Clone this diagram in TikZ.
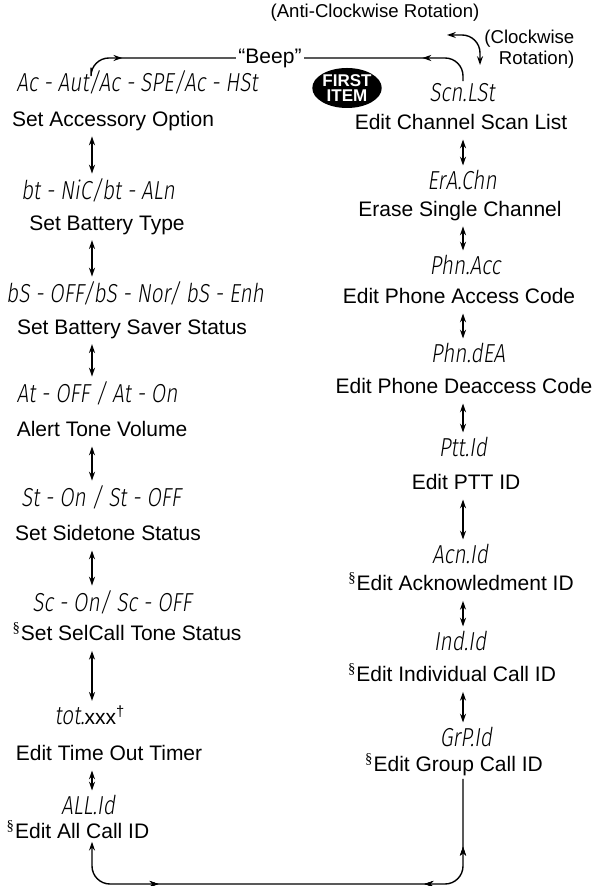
\documentclass[tikz,border=0pt]{standalone}
\usepackage{fontspec}
\setmainfont{Liberation Sans}
\newfontfamily\lcdfont[FakeSlant=0.15,FakeStretch=0.8]{Fira Sans Light}
\newfontfamily\symfont{Liberation Serif}
\usetikzlibrary{arrows.meta,shapes.geometric,decorations.markings}
\newcommand{\lcdsize}{\lcdfont\fontsize{13}{13}\selectfont}
\newcommand{\sect}{\textsuperscript{\symfont\S}}
\begin{document}
\begin{tikzpicture}[
		x=0.5pt, y=-0.5pt,
		>={Stealth[length=4.4pt, width=3pt]},
		every node/.style={inner sep=1pt},
		every path/.style={line width=0.7pt},
		lcd/.style={font=\lcdsize},
		lab/.style={font=\fontsize{10.5}{12}\selectfont},
		note/.style={font=\fontsize{9.3}{10.5}\selectfont, align=right},
		firstitem/.style={ellipse, fill=black, text=white, minimum width=34.5pt, minimum height=20pt, inner sep=0pt, align=center, font=\bfseries\fontsize{8.5}{7.5}\selectfont},
		updown/.style={<->, shorten <=5pt, shorten >=1pt},
		loop/.style={rounded corners=9pt},
		fwd/.style={postaction={decorate}, decoration={markings, mark=at position #1 with {\arrow{>}}}},
		rev/.style={postaction={decorate}, decoration={markings, mark=at position #1 with {\arrowreversed{>}}}},
		]
		\useasboundingbox (0,0) rectangle (596,886);
		\coordinate (lcol) at (92,0);
		\coordinate (rcol) at (463,0);
		\coordinate (topl) at (91,0);
		\coordinate (bot) at (92,884);
		\coordinate (rotl) at (447,35);
		\coordinate (rotd) at (480,65);
		\node[note, align=center] (anti) at (375,13) {(Anti-Clockwise Rotation)};
		\node[note, anchor=east] (clock) at (577,49) {(Clockwise\\Rotation)};
		\node[lab] (beep) at (270,58) {“Beep”};
		\node[firstitem] (first) at (347,88) {FIRST\\ITEM};
		\node[lcd] (lcdA) at (137,82) {Ac - Aut/Ac - SPE/Ac - HSt};
		\node[lab] (labA) at (113,121) {Set Accessory Option};
		\node[lcd] (lcdB) at (98,190) {bt - NiC/bt - ALn};
		\node[lab] (labB) at (107,225) {Set Battery Type};
		\node[lcd] (lcdC) at (135,293) {bS - OFF/bS - Nor/ bS - Enh};
		\node[lab] (labC) at (132,329) {Set Battery Saver Status};
		\node[lcd] (lcdD) at (97,393) {At - OFF / At - On};
		\node[lab] (labD) at (102,429) {Alert Tone Volume};
		\node[lcd] (lcdE) at (101,497) {St - On / St - OFF};
		\node[lab] (labE) at (108,533) {Set Sidetone Status};
		\node[lcd] (lcdF) at (112,602) {Sc - On/ Sc - OFF};
		\node[lab] (labF) at (127,632) {\sect Set SelCall Tone Status};
		\node[lab] (lcdG) at (90,715) {{\lcdsize tot.}xxx\textsuperscript{\textdagger}};
		\node[lab] (labG) at (109,753) {Edit Time Out Timer};
		\node[lcd] (lcdH) at (88,805) {ALL.Id};
		\node[lab] (labH) at (78,830) {\sect Edit All Call ID};
		\node[lcd] (lcdR1) at (462,93) {Scn.LSt};
		\node[lab] (labR1) at (461,122) {Edit Channel Scan List};
		\node[lcd] (lcdR2) at (462,180) {ErA.Chn};
		\node[lab] (labR2) at (460,211) {Erase Single Channel};
		\node[lcd] (lcdR3) at (465,265) {Phn.Acc};
		\node[lab] (labR3) at (459,296) {Edit Phone Access Code};
		\node[lcd] (lcdR4) at (468,353) {Phn.dEA};
		\node[lab] (labR4) at (464,386) {Edit Phone Deaccess Code};
		\node[lcd] (lcdR5) at (463,447) {Ptt.Id};
		\node[lab] (labR5) at (466,482) {Edit PTT ID};
		\node[lcd] (lcdR6) at (460,554) {Acn.Id};
		\node[lab] (labR6) at (461,582) {\sect Edit Acknowledment ID};
		\node[lcd] (lcdR7) at (460,641) {Ind.Id};
		\node[lab] (labR7) at (452,673) {\sect Edit Individual Call ID};
		\node[lcd] (lcdR8) at (466,737) {GrP.Id};
		\node[lab] (labR8) at (454,765) {\sect Edit Group Call ID};
		\draw[updown] (labA.base -| lcol) -- (lcdB.north -| lcol);
		\draw[updown] (labB.base -| lcol) -- (lcdC.north -| lcol);
		\draw[updown] (labC.base -| lcol) -- (lcdD.north -| lcol);
		\draw[updown] (labD.base -| lcol) -- (lcdE.north -| lcol);
		\draw[updown] (labE.base -| lcol) -- (lcdF.north -| lcol);
		\draw[updown] (labF.base -| lcol) -- (lcdG.north -| lcol);
		\draw[updown] (labG.base -| lcol) -- (lcdH.north -| lcol);
		\draw[updown] (labR1.base -| rcol) -- (lcdR2.north -| rcol);
		\draw[updown] (labR2.base -| rcol) -- (lcdR3.north -| rcol);
		\draw[updown] (labR3.base -| rcol) -- (lcdR4.north -| rcol);
		\draw[updown] (labR4.base -| rcol) -- (lcdR5.north -| rcol);
		\draw[updown] (labR5.base -| rcol) -- (lcdR6.north -| rcol);
		\draw[updown] (labR6.base -| rcol) -- (lcdR7.north -| rcol);
		\draw[updown] (labR7.base -| rcol) -- (lcdR8.north -| rcol);
		\draw[loop, fwd=25pt] (lcdA.north -| topl) |- (beep.west);
		\draw[loop, fwd=28pt] (lcdR1.north -| rcol) |- (beep.east);
		\draw[loop, <->] (rotl) -| (rotd);
		\draw[loop, ->, rev=34pt, fwd=68pt, rev=201pt] (labR8.south -| rcol) |- (bot) -- (labH.south -| lcol);
	\end{tikzpicture}
\end{document}
